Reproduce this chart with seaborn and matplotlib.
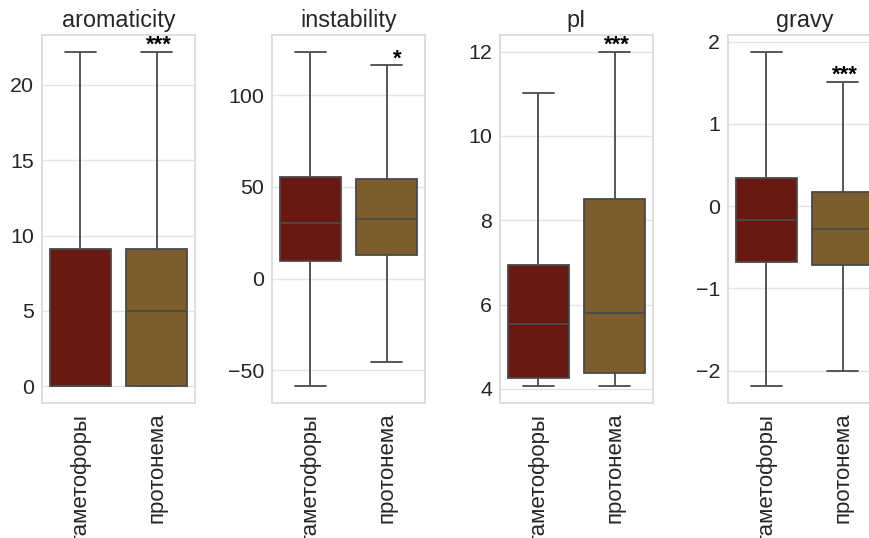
import numpy as np
import pandas as pd
import matplotlib
matplotlib.use("Agg")
import matplotlib.pyplot as plt
import seaborn as sns

# Five-number summaries (min, Q1, median, Q3, max) per tissue and property
groups = ["гаметофоры", "протонема"]
features = ["aromaticity", "instability", "pI", "gravy"]

aromaticity_gam = [0.0, 0.0, 0.0, 9.1, 22.2]
aromaticity_prot = [0.0, 0.0, 5.0, 9.1, 22.2]
instability_gam = [-58.7, 9.6, 30.1, 55.2, 123.6]
instability_prot = [-45.6, 12.9, 32.5, 54.1, 116.3]
pi_gam = [4.06, 4.26, 5.54, 6.93, 11.01]
pi_prot = [4.06, 4.38, 5.80, 8.50, 12.0]
gravy_gam = [-2.19, -0.68, -0.174, 0.345, 1.876]
gravy_prot = [-2.01, -0.717, -0.275, 0.175, 1.51]

significance = ["***", "*", "***", "***"]
palette = ["#691812", "#7d5d2e"]

summaries = {
    "aromaticity": (aromaticity_gam, aromaticity_prot),
    "instability": (instability_gam, instability_prot),
    "pI": (pi_gam, pi_prot),
    "gravy": (gravy_gam, gravy_prot),
}

rows = []
for feat, (g_vals, p_vals) in summaries.items():
    for grp, vals in zip(groups, (g_vals, p_vals)):
        for v in vals:
            rows.append({"feature": feat, "group": grp, "value": v})
df = pd.DataFrame(rows)

sns.set_theme(style="whitegrid", font_scale=1.4,
              rc={"grid.color": "#e4e4e4", "axes.edgecolor": "#dadada"})
plt.rcParams["font.family"] = ["Liberation Sans", "DejaVu Sans"]

fig = plt.figure(figsize=(8.7, 5.38), dpi=100)
lefts = [42, 272, 500, 728]
W, H = 870, 538
for i, feat in enumerate(features):
    ax = fig.add_axes([lefts[i] / W, (H - 403) / H, 153 / W, 368 / H])
    sub = df[df["feature"] == feat]
    sns.boxplot(data=sub, x="group", y="value", hue="group", order=groups,
                hue_order=groups, palette=palette, saturation=1,
                whis=(0, 100), width=0.8, legend=False, ax=ax,
                linecolor="#4a4a4a", linewidth=1.3)
    ax.set_title(feat, color="#262626")
    ax.set_xlabel("")
    ax.set_ylabel("")
    ax.tick_params(axis="x", rotation=90, length=0, pad=7, labelsize=16,
                   colors="#262626")
    ax.tick_params(axis="y", length=0, pad=5.5, colors="#262626")
    top = sub[sub["group"] == groups[1]]["value"].max()
    ax.annotate(significance[i], xy=(1.2, top), xytext=(0, 0.5),
                textcoords="offset points", ha="right", va="baseline",
                fontsize=16, fontweight="bold", color="black")

fig.savefig("out.png", dpi=100)
